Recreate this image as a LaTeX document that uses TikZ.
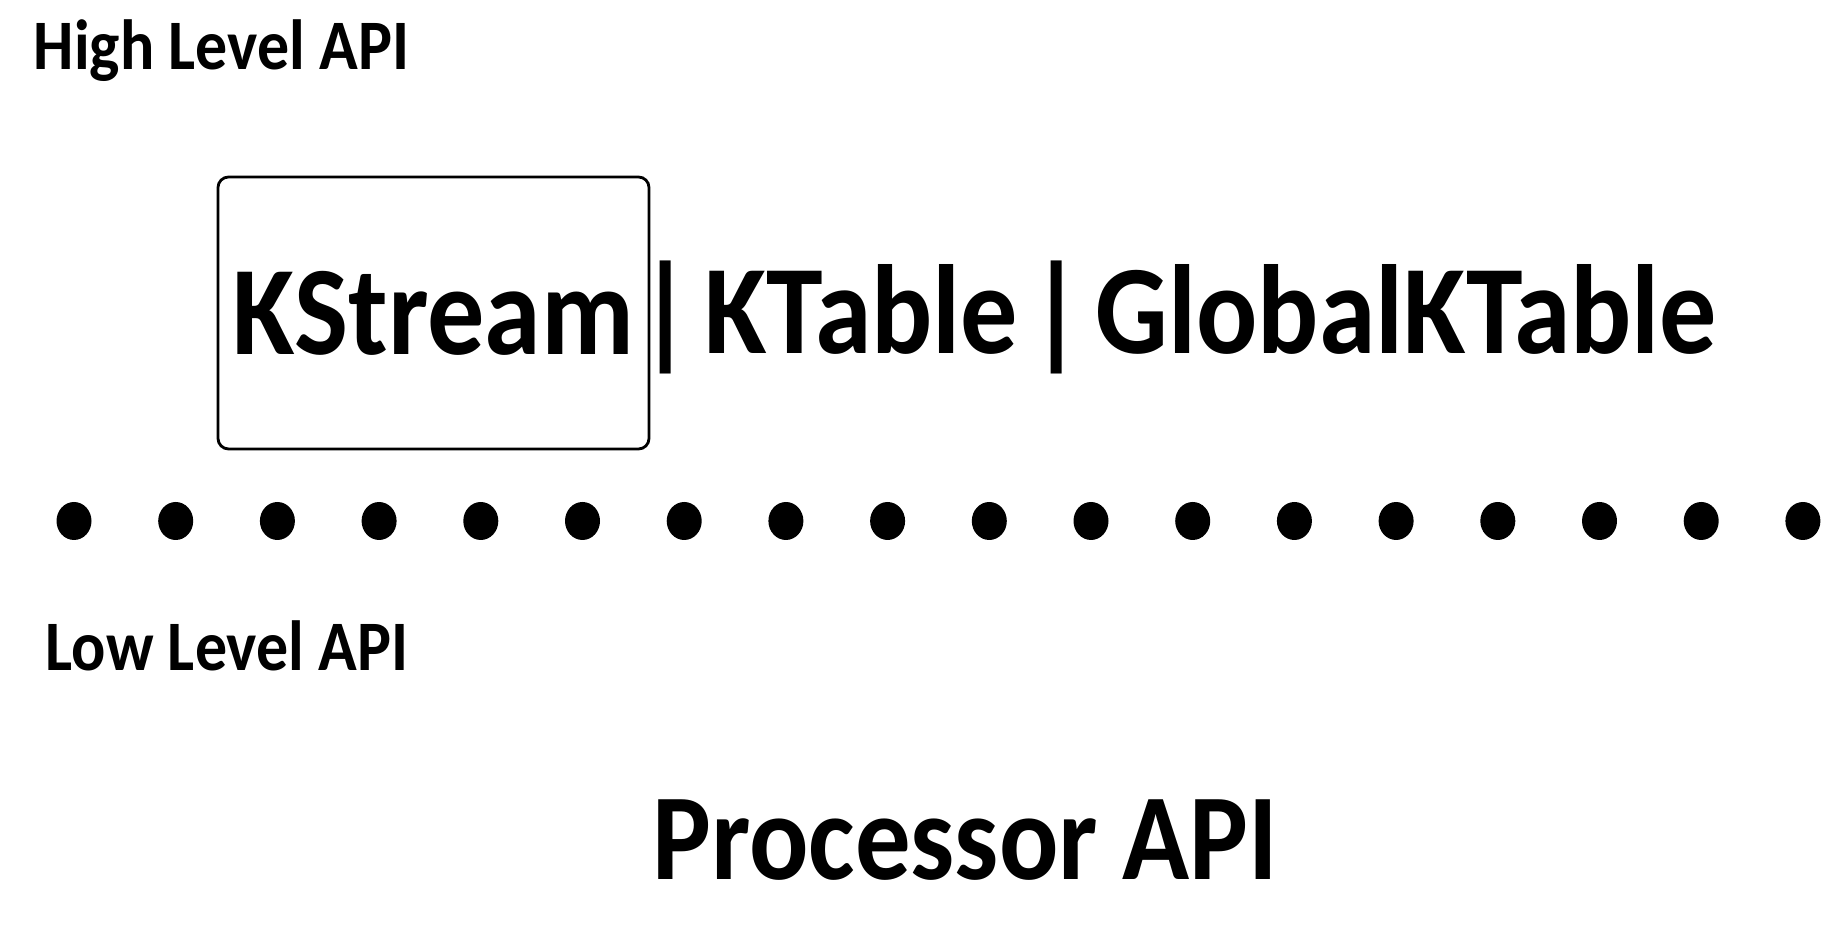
\documentclass[tikz,border=0pt]{standalone}
\usepackage{fontspec}
\setmainfont{Carlito}[FakeStretch=0.9]
\newfontfamily\tablefont{Carlito}[FakeStretch=0.9, WordSpace=0.45]
\usepackage{tikz}
\usetikzlibrary{positioning}

\tikzset{
  apilabel/.style={font=\fontsize{20.2}{24}\selectfont\bfseries, inner sep=0pt, anchor=base west},
  bigtext/.style={font=\fontsize{36.1}{42}\selectfont\bfseries, inner sep=0pt},
  streambox/.style={draw, line width=0.8pt, rounded corners=3pt, minimum width=4.31cm, minimum height=2.72cm}
}

\begin{document}
\begin{tikzpicture}
\useasboundingbox (0,0) rectangle (18.39,-9.48);

% Upper layer
\node[apilabel] (highlabel) at (0.33,-0.70) {High Level API};

\node[streambox, bigtext] (kstream) at (4.335,-3.13) {KStream};
\node[bigtext, font=\fontsize{36.1}{42}\selectfont\tablefont\bfseries, anchor=base west] (tables) at (6.38,-3.54) {| KTable | GlobalKTable};

% Divider
\foreach \i in {0,...,17} {
    \fill (0.74+1.017*\i,-5.21) ellipse (0.175 and 0.19);
}

% Lower layer
\node[apilabel] (lowlabel) at (0.45,-6.71) {Low Level API};
\node[bigtext, font=\fontsize{35}{42}\selectfont\bfseries, anchor=base] (processor) at (9.655,-8.80) {Processor API};
\end{tikzpicture}
\end{document}
